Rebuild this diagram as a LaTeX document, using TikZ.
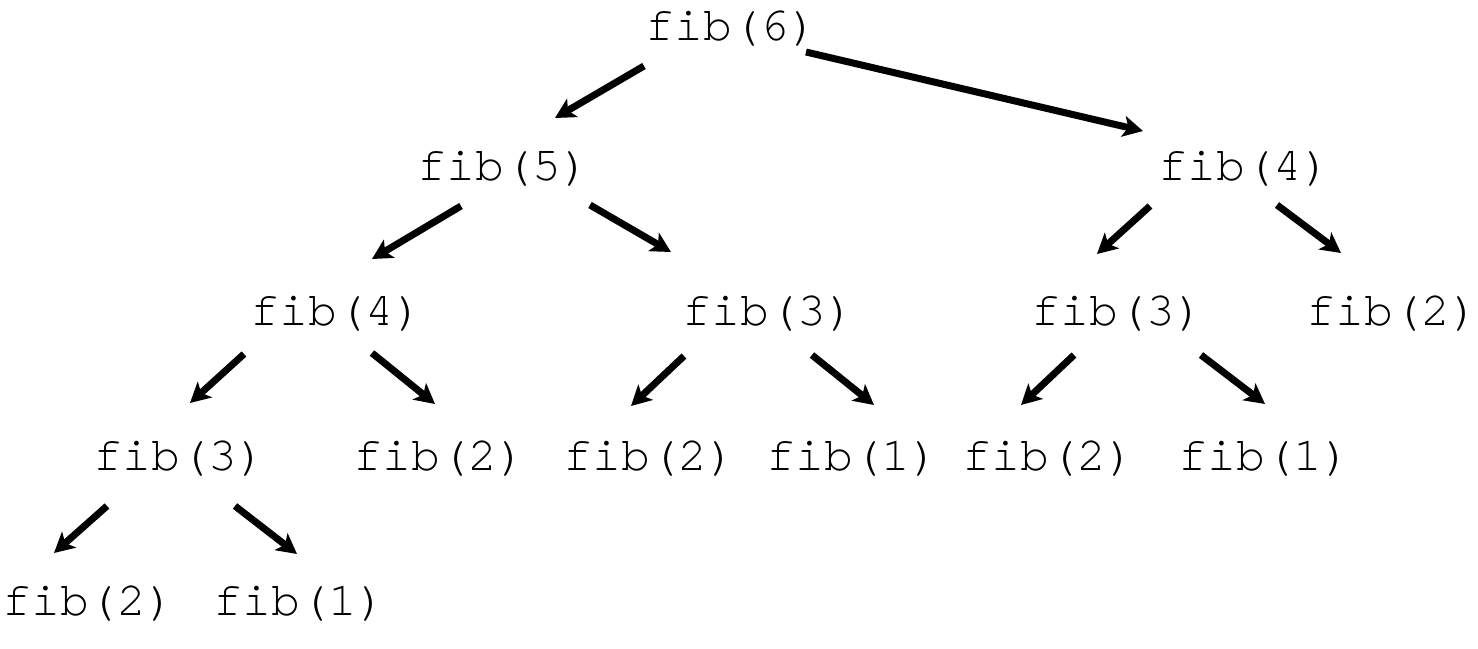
\documentclass[tikz,border=0pt]{standalone}
\usepackage{fontspec}
\setmonofont[Ligatures=CommonOff]{TeX Gyre Cursor}
\usetikzlibrary{arrows.meta,calc}
\begin{document}
\begin{tikzpicture}[x=0.5pt,y=-0.5pt,
  fn/.style={anchor=base,inner sep=0pt,font=\ttfamily\fontsize{24}{28}\selectfont},
  arr/.style={line width=3.5pt,-{Stealth[length=10pt,width=10.5pt,inset=2.5pt]}}]
\useasboundingbox (0,0) rectangle (1478,648);
\node[fn] (n6) at (732,40) {fib(6)};
\node[fn] (n5) at (504,180) {fib(5)};
\node[fn] (n4R) at (1245,180) {fib(4)};
\node[fn] (n4L) at (337,325) {fib(4)};
\node[fn] (n3M) at (769,325) {fib(3)};
\node[fn] (n3R) at (1118,325) {fib(3)};
\node[fn] (n2R) at (1393,325) {fib(2)};
\node[fn] (n3L) at (180,470) {fib(3)};
\node[fn] (n2a) at (440,470) {fib(2)};
\node[fn] (n2b) at (650,470) {fib(2)};
\node[fn] (n1b) at (853,470) {fib(1)};
\node[fn] (n2c) at (1049,470) {fib(2)};
\node[fn] (n1c) at (1265,470) {fib(1)};
\node[fn] (n2d) at (89,615) {fib(2)};
\node[fn] (n1d) at (300,615) {fib(1)};
\draw[arr] ($(n6.base)+(-88,26)$) -- ($(n5.base)+(51,-62)$);
\draw[arr] ($(n6.base)+(74,12)$) -- ($(n4R.base)+(-102,-49)$);
\draw[arr] ($(n5.base)+(-43,26)$) -- ($(n4L.base)+(35,-66)$);
\draw[arr] ($(n5.base)+(86,25)$) -- ($(n3M.base)+(-98,-73)$);
\draw[arr] ($(n4R.base)+(-95,26)$) -- ($(n3R.base)+(-21,-71)$);
\draw[arr] ($(n4R.base)+(32,25)$) -- ($(n2R.base)+(-52,-72)$);
\draw[arr] ($(n4L.base)+(-93,29)$) -- ($(n3L.base)+(10,-67)$);
\draw[arr] ($(n4L.base)+(35,28)$) -- ($(n2a.base)+(-5,-66)$);
\draw[arr] ($(n3M.base)+(-85,31)$) -- ($(n2b.base)+(-19,-64)$);
\draw[arr] ($(n3M.base)+(43,30)$) -- ($(n1b.base)+(21,-65)$);
\draw[arr] ($(n3R.base)+(-44,30)$) -- ($(n2c.base)+(-28,-65)$);
\draw[arr] ($(n3R.base)+(83,30)$) -- ($(n1c.base)+(0,-66)$);
\draw[arr] ($(n3L.base)+(-73,36)$) -- ($(n2d.base)+(-35,-62)$);
\draw[arr] ($(n3L.base)+(55,36)$) -- ($(n1d.base)+(-3,-61)$);
\end{tikzpicture}
\end{document}
